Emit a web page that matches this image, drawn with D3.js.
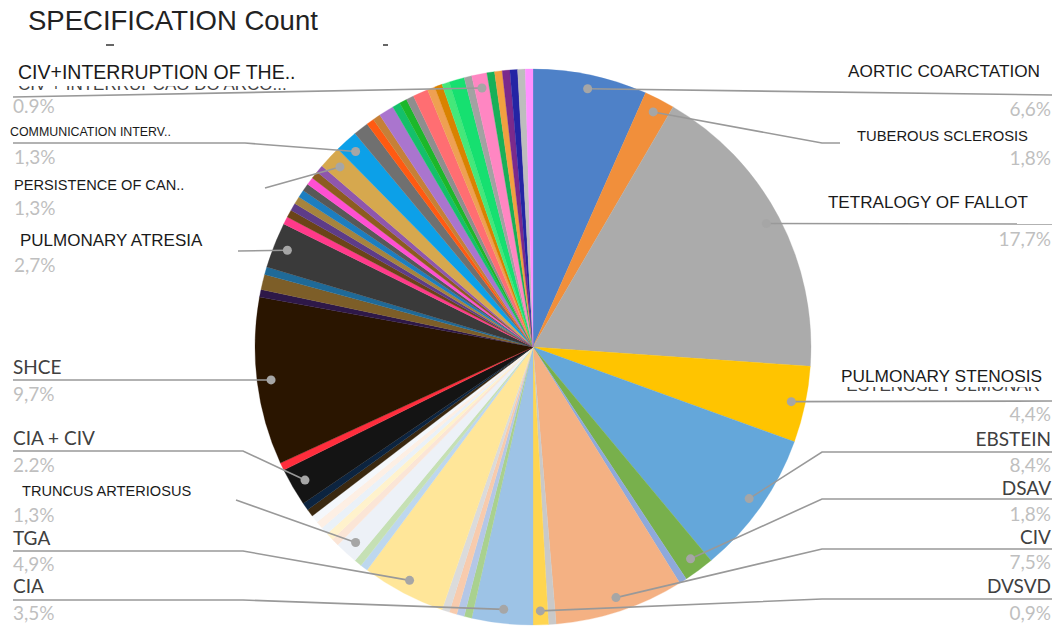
<!DOCTYPE html>
<html>
<head>
<meta charset="utf-8">
<script src="https://cdn.jsdelivr.net/npm/d3@7/dist/d3.min.js"></script>
<style>
  html, body { margin: 0; padding: 0; background: #ffffff; }
  svg { display: block; }
</style>
</head>
<body>
<svg id="chart" width="1059" height="626"></svg>
<script>
// ---------------- DATA ----------------
const chartTitle = "SPECIFICATION Count";

const categories = [
  "AORTIC COARCTATION","TUBEROUS SCLEROSIS","TETRALOGY OF FALLOT","PULMONARY STENOSIS","EBSTEIN",
  "DSAV","Other 1","CIV","Other 2","DVSVD",
  "CIA","Other 3","Other 4","Other 5","Other 6",
  "TGA","Other 7","Other 8","TRUNCUS ARTERIOSUS","Other 9",
  "Other 10","Other 11","Other 12","Other 13","Other 14",
  "Other 15","CIA + CIV","Other 16","SHCE","Other 17",
  "Other 18","Other 19","PULMONARY ATRESIA","Other 20","Other 21",
  "Other 22","Other 23","Other 24","Other 25","Other 26",
  "Other 27","Other 28","PERSISTENCE OF CAN..","COMMUNICATION INTERV..","Other 29",
  "Other 30","Other 31","Other 32","Other 33","Other 34",
  "Other 35","Other 36","Other 37","Other 38","Other 39",
  "Other 40","Other 41","CIV+INTERRUPTION OF THE..","Other 42","Other 43",
  "Other 44","Other 45","Other 46","Other 47"
];

const counts = [
  15, 4, 40, 10, 19,
  4, 1, 17, 1, 2,
  8, 1, 1, 1, 1,
  11, 1, 1, 3, 1,
  1, 1, 1, 1, 1,
  1, 5, 1, 22, 1,
  2, 1, 6, 1, 1,
  1, 1, 1, 1, 1,
  1, 1, 3, 3, 2,
  1, 1, 2, 1, 1,
  1, 2, 1, 1, 1,
  2, 1, 2, 1, 1,
  1, 1, 1, 1
];

const sliceColors = [
  "#4E81C8","#F18F3B","#ABABAB","#FFC400","#64A7DA",
  "#78B04C","#8EA9DB","#F4B183","#C9C9C9","#FFD550",
  "#9DC3E6","#A9D18E","#B4C7E7","#F8CBAD","#DBDBDB",
  "#FFE699","#BDD7EE","#C5E0B4","#EDF1F7","#FBE5D6",
  "#FFF2CC","#EAF1F8","#FDEFE4","#F4F7FB","#3A2810",
  "#0C2440","#141414","#FF2D3C","#2A1500","#2E1848",
  "#7D5E28","#1F6A98","#3A3A3A","#FF3A8A","#6B4418",
  "#5E3C88","#A6843E","#1C7EC0","#585858","#FF4FD2",
  "#8C5C20","#8F56AC","#D6A84E","#0CA0E8","#707070",
  "#FF5A12","#C68038","#AA75CE","#14C06A","#1CB82A",
  "#8E8E8E","#FF6E72","#EFA052","#D98200","#44E87A",
  "#16E070","#A2A2A2","#FF86C2","#18B058","#F2A040",
  "#7B2A8C","#2424A4","#BDBDBD","#FF90FF"
];

const labeledNames = [
  "AORTIC COARCTATION","TUBEROUS SCLEROSIS","TETRALOGY OF FALLOT","PULMONARY STENOSIS",
  "EBSTEIN","DSAV","CIV","DVSVD",
  "CIV+INTERRUPTION OF THE..","COMMUNICATION INTERV..","PERSISTENCE OF CAN..","PULMONARY ATRESIA",
  "SHCE","CIA + CIV","TRUNCUS ARTERIOSUS","TGA","CIA"
];
const labeledPercents = [
  "6,6%","1,8%","17,7%","4,4%",
  "8,4%","1,8%","7,5%","0,9%",
  "0.9%","1,3%","1,3%","2,7%",
  "9,7%","2.2%","1,3%","4,9%","3,5%"
];

// ---------------- LAYOUT (positions / styles) ----------------
const W = 1059, H = 626;
const cx = 533, cy = 347, R = 278, dotR = 264;
const ARIAL = "'Liberation Sans', Arial, sans-serif";
const CAL = "Lato, 'Open Sans', sans-serif";

const layout = {
  "AORTIC COARCTATION":       {anchor:"end",   x:1040, y:77,  font:ARIAL, size:17.2, color:"#1a1a1a", px:1051, py:116, pts:[[1052,95]]},
  "TUBEROUS SCLEROSIS":       {anchor:"end",   x:1028, y:141, font:ARIAL, size:14.8, color:"#1a1a1a", px:1051, py:165, pts:[[822,143],[840,143]]},
  "TETRALOGY OF FALLOT":      {anchor:"end",   x:1028, y:208, font:ARIAL, size:17.1, color:"#1a1a1a", px:1051, py:246, pts:[[1052,224]]},
  "PULMONARY STENOSIS":       {anchor:"end",   x:1042, y:382, font:ARIAL, size:17.3, color:"#1a1a1a", px:1051, py:421, pts:[[1052,401]]},
  "EBSTEIN":                  {anchor:"end",   x:1051, y:446, font:CAL,   size:19,   color:"#404040", px:1051, py:472, pts:[[822,452],[1052,452]]},
  "DSAV":                     {anchor:"end",   x:1051, y:495, font:CAL,   size:19,   color:"#404040", px:1051, py:521, pts:[[822,499],[1052,499]]},
  "CIV":                      {anchor:"end",   x:1051, y:544, font:CAL,   size:19,   color:"#404040", px:1051, py:569, pts:[[822,549],[1052,549]]},
  "DVSVD":                    {anchor:"end",   x:1051, y:593, font:CAL,   size:19,   color:"#404040", px:1051, py:620, pts:[[822,599],[1052,599]]},
  "CIV+INTERRUPTION OF THE..":{anchor:"start", x:18,   y:79,  font:ARIAL, size:19.5, color:"#1a1a1a", px:13,   py:113, pts:[[13,97]]},
  "COMMUNICATION INTERV..":   {anchor:"start", x:10,   y:136, font:ARIAL, size:12.4, color:"#1a1a1a", px:14,   py:164, pts:[[245,143],[13,143]]},
  "PERSISTENCE OF CAN..":     {anchor:"start", x:14,   y:190, font:ARIAL, size:14.6, color:"#1a1a1a", px:14,   py:215, pts:[[265,188]]},
  "PULMONARY ATRESIA":        {anchor:"start", x:20,   y:246, font:ARIAL, size:17,   color:"#1a1a1a", px:14,   py:272, pts:[[238,251]]},
  "SHCE":                     {anchor:"start", x:13,   y:374, font:CAL,   size:19,   color:"#404040", px:13,   py:401, pts:[[13,380]]},
  "CIA + CIV":                {anchor:"start", x:13,   y:445, font:CAL,   size:19,   color:"#404040", px:13,   py:472, pts:[[243,451],[13,451]]},
  "TRUNCUS ARTERIOSUS":       {anchor:"start", x:22,   y:496, font:ARIAL, size:14.6, color:"#1a1a1a", px:13,   py:522, pts:[[236,500]]},
  "TGA":                      {anchor:"start", x:13,   y:545, font:CAL,   size:19,   color:"#404040", px:13,   py:571, pts:[[243,551],[13,551]]},
  "CIA":                      {anchor:"start", x:13,   y:593, font:CAL,   size:19,   color:"#404040", px:13,   py:620, pts:[[243,600],[13,600]]}
};

// ---------------- DRAW ----------------
const svg = d3.select("#chart");
svg.append("rect").attr("width", W).attr("height", H).attr("fill", "#ffffff");

const data = categories.map((c, i) => ({name: c, value: counts[i], color: sliceColors[i]}));

const pie = d3.pie().value(d => d.value).sort(null).startAngle(0).endAngle(2 * Math.PI);
const arcs = pie(data);
const arc = d3.arc().innerRadius(0).outerRadius(R);
const dotArc = d3.arc().innerRadius(dotR).outerRadius(dotR);

const g = svg.append("g").attr("transform", `translate(${cx},${cy})`);
g.selectAll("path.slice")
  .data(arcs)
  .join("path")
  .attr("class", "slice")
  .attr("d", arc)
  .attr("fill", d => d.data.color)
  .attr("stroke", d => d.data.color)
  .attr("stroke-width", 0.3);

// title
svg.append("text")
  .attr("x", 28).attr("y", 30)
  .attr("font-family", ARIAL).attr("font-size", 27.5)
  .attr("fill", "#222").text(chartTitle);

// small artifacts under title
svg.append("line").attr("x1", 106).attr("x2", 114).attr("y1", 45).attr("y2", 45).attr("stroke", "#666").attr("stroke-width", 2);
svg.append("line").attr("x1", 383).attr("x2", 388).attr("y1", 45).attr("y2", 45).attr("stroke", "#666").attr("stroke-width", 2);

// partially covered original-language labels (only bottom slivers visible)
const defs = svg.append("defs");
defs.append("clipPath").attr("id", "clipA").append("rect").attr("x", 0).attr("y", 86).attr("width", 400).attr("height", 4);
defs.append("clipPath").attr("id", "clipB").append("rect").attr("x", 800).attr("y", 387).attr("width", 259).attr("height", 4);
svg.append("text").attr("clip-path", "url(#clipA)")
  .attr("x", 18).attr("y", 89.5).attr("font-family", ARIAL).attr("font-size", 17)
  .attr("fill", "#444").text("CIV + INTERRUPÇÃO DO ARCO...");
svg.append("text").attr("clip-path", "url(#clipB)")
  .attr("x", 1040).attr("y", 391).attr("text-anchor", "end").attr("font-family", ARIAL).attr("font-size", 17)
  .attr("fill", "#444").text("ESTENOSE PULMONAR");

// leaders, dots and labels
const labelG = svg.append("g");
labeledNames.forEach((name, i) => {
  const a = arcs.find(d => d.data.name === name);
  const L = layout[name];
  const c = dotArc.centroid(a);
  const p0 = [cx + c[0], cy + c[1]];
  const pts = [p0].concat(L.pts);
  labelG.append("path")
    .attr("d", d3.line()(pts))
    .attr("fill", "none")
    .attr("stroke", "#999")
    .attr("stroke-width", 1.6);
  labelG.append("circle")
    .attr("cx", p0[0]).attr("cy", p0[1]).attr("r", 4.5)
    .attr("fill", "#A6A6A6");
  labelG.append("text")
    .attr("x", L.x).attr("y", L.y)
    .attr("text-anchor", L.anchor)
    .attr("font-family", L.font).attr("font-size", L.size)
    .attr("fill", L.color)
    .text(name);
  labelG.append("text")
    .attr("x", L.px).attr("y", L.py)
    .attr("text-anchor", L.anchor)
    .attr("font-family", CAL).attr("font-size", 19)
    .attr("fill", "#BFBFBF")
    .text(labeledPercents[i]);
});
</script>
</body>
</html>
